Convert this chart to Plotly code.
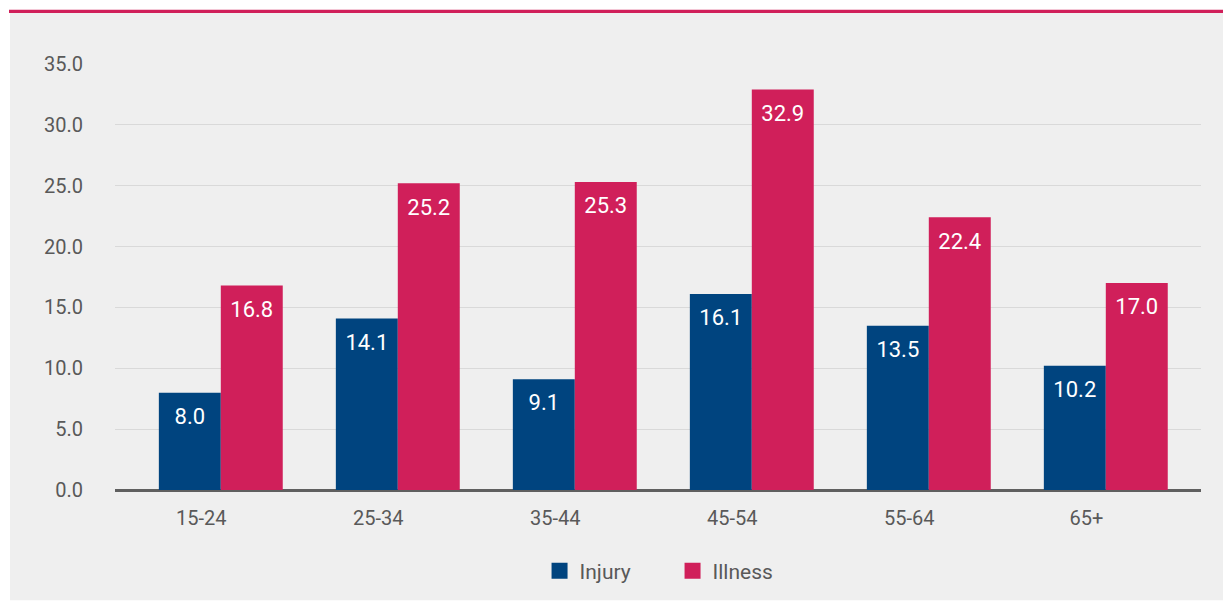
import plotly.graph_objects as go

categories = ["15-24", "25-34", "35-44", "45-54", "55-64", "65+"]
injury = [8.0, 14.1, 9.1, 16.1, 13.5, 10.2]
illness = [16.8, 25.2, 25.3, 32.9, 22.4, 17.0]
y_ticks = [0, 5, 10, 15, 20, 25, 30, 35]

BLUE = "#00447f"
PINK = "#d01f5a"
BG = "#efefef"
TXT = "#595959"
FONT = "Roboto, DejaVu Sans, sans-serif"

xpos = list(range(len(categories)))

fig = go.Figure()
series = [("Injury", injury, BLUE, "a"), ("Illness", illness, PINK, "b")]
for name, vals, col, grp in series:
    fig.add_trace(go.Bar(
        x=xpos, y=vals, name=name, offsetgroup=grp,
        marker=dict(color=col, line=dict(width=0)),
        showlegend=False, hoverinfo="y",
    ))
for name, vals, col, grp in series:
    fig.add_trace(go.Scatter(
        x=xpos, y=vals, mode="markers+text", offsetgroup=grp,
        text=[f"{v:.1f}" for v in vals], textposition="bottom center",
        textfont=dict(color="white", size=22, family=FONT),
        marker=dict(size=22, opacity=0, color=col),
        showlegend=False, hoverinfo="skip", cliponaxis=False,
    ))
for name, vals, col, grp in series:
    fig.add_trace(go.Scatter(
        x=[None], y=[None], mode="markers", name=name,
        marker=dict(symbol="square", size=19, color=col, line=dict(width=0)),
    ))

W, H = 1223, 602
L, R, T, B = 115, 22, 64, 111
pw, ph = W - L - R, H - T - B

def px_x(p):
    return (p - L) / pw

def px_y(p):
    return (H - B - p) / ph

shapes = [
    dict(type="rect", xref="paper", yref="paper", x0=px_x(0), x1=px_x(W), y0=px_y(0), y1=px_y(H),
         fillcolor="white", line=dict(width=0), layer="below"),
    dict(type="rect", xref="paper", yref="paper", x0=px_x(10), x1=px_x(W), y0=px_y(13), y1=px_y(601.5),
         fillcolor=BG, line=dict(width=0), layer="below"),
    dict(type="rect", xref="paper", yref="paper", x0=px_x(9), x1=px_x(W), y0=px_y(9.5), y1=px_y(13),
         fillcolor=PINK, line=dict(width=0), layer="below"),
]

fig.update_layout(
    width=W, height=H,
    margin=dict(l=L, r=R, t=T, b=B, pad=0),
    paper_bgcolor="white", plot_bgcolor=BG,
    barmode="group", bargap=0.30, bargroupgap=0,
    scattermode="group", scattergap=0.30,
    font=dict(family=FONT, color=TXT, size=20),
    shapes=shapes,
    showlegend=True,
    legend=dict(orientation="h", x=0.5134, xanchor="center", y=px_y(571), yanchor="middle",
                font=dict(size=21, color=TXT), itemwidth=30, traceorder="normal",
                bgcolor="rgba(0,0,0,0)", itemsizing="trace", entrywidth=88),
    xaxis=dict(
        range=[(115 - 220.8) / 177, (1201 - 220.8) / 177],
        tickmode="array", tickvals=[i - 0.11 for i in xpos], ticktext=categories,
        showgrid=False, zeroline=False, showline=False,
        ticks="outside", ticklen=10, tickcolor="rgba(0,0,0,0)",
        tickfont=dict(size=20, color=TXT, family=FONT),
        fixedrange=True,
    ),
    yaxis=dict(
        range=[0, 35], tickmode="array", tickvals=y_ticks,
        ticktext=[f"{v:.1f}" for v in y_ticks],
        showgrid=True, gridcolor="#d9d9d9", gridwidth=1,
        zeroline=True, zerolinecolor="#5f5f5f", zerolinewidth=2.5,
        showline=False,
        ticks="outside", ticklen=27, tickcolor="rgba(0,0,0,0)",
        tickfont=dict(size=20, color=TXT, family=FONT),
    ),
)

fig.write_html("out.html", config={"displayModeBar": False},
               post_script="document.body.style.margin='0';")
